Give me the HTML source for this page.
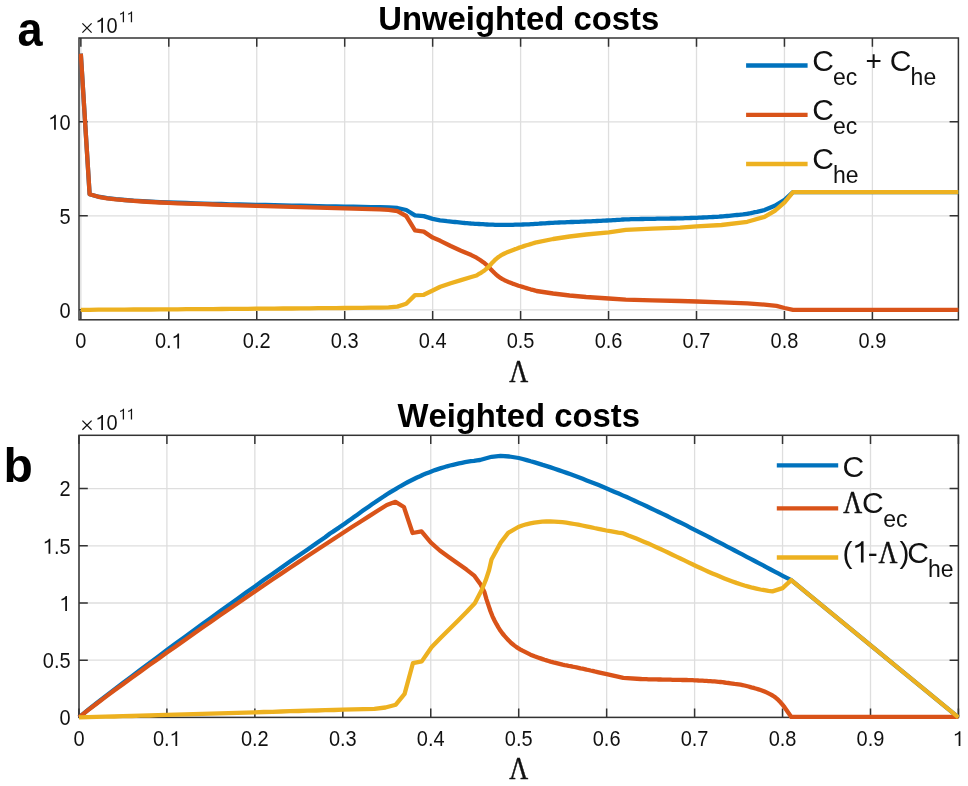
<!DOCTYPE html>
<html><head><meta charset="utf-8"><title>Costs</title><style>
html,body{margin:0;padding:0;background:#fff;}
body{width:968px;height:786px;overflow:hidden;}
svg{display:block;}
text{font-family:"Liberation Sans",sans-serif;fill:#111111;}
.tk{font-size:20px;}
.sup{font-size:14.5px;}
.ti{font-size:32.85px;font-weight:bold;fill:#000;}
.pl{font-size:48px;font-weight:bold;fill:#000;}
.lam{font-family:"Liberation Serif",serif;font-size:31px;stroke:#111111;stroke-width:0.45px;}
.lam2{font-family:"Liberation Serif",serif;font-size:31px;stroke:#111111;stroke-width:0.45px;}
.lg{font-size:30px;}
.lgp{font-size:28px;}
.sb{font-size:23px;}
.g1{fill:#111111;}
text{font-kerning:none;}
svg{will-change:transform;}
</style></head><body><div id="w">
<svg width="968" height="786" viewBox="0 0 968 786">
<rect width="968" height="786" fill="#fff"/>
<path d="M80.85 38.00V319.80M168.80 38.00V319.80M256.75 38.00V319.80M344.70 38.00V319.80M432.65 38.00V319.80M520.60 38.00V319.80M608.55 38.00V319.80M696.50 38.00V319.80M784.45 38.00V319.80M872.40 38.00V319.80M79.00 309.80H958.40M79.00 215.80H958.40M79.00 121.80H958.40" stroke="#dedede" stroke-width="1.3" fill="none"/>
<path d="M80.85 319.80V311.00M80.85 38.00V46.80M168.80 319.80V311.00M168.80 38.00V46.80M256.75 319.80V311.00M256.75 38.00V46.80M344.70 319.80V311.00M344.70 38.00V46.80M432.65 319.80V311.00M432.65 38.00V46.80M520.60 319.80V311.00M520.60 38.00V46.80M608.55 319.80V311.00M608.55 38.00V46.80M696.50 319.80V311.00M696.50 38.00V46.80M784.45 319.80V311.00M784.45 38.00V46.80M872.40 319.80V311.00M872.40 38.00V46.80M79.00 309.80H87.80M958.40 309.80H949.60M79.00 215.80H87.80M958.40 215.80H949.60M79.00 121.80H87.80M958.40 121.80H949.60" stroke="#333333" stroke-width="1.5" fill="none"/>
<rect x="79.00" y="38.00" width="879.40" height="281.80" fill="none" stroke="#333333" stroke-width="1.5"/>
<g transform="matrix(1 0 0 1.060 0 -20.910)"><text x="75.29" y="348.50" class="tk">0</text></g>
<g transform="matrix(1 0 0 1.060 0 -20.910)"><text x="154.90" y="348.50" class="tk">0. </text><path class="g1" d="M287 0L375 0L375 705L308 705C285 650 210 590 100 565L100 487C175 500 240 530 287 565Z" transform="translate(171.58 348.50) scale(0.0200 -0.0200)"/></g>
<g transform="matrix(1 0 0 1.060 0 -20.910)"><text x="242.85" y="348.50" class="tk">0.2</text></g>
<g transform="matrix(1 0 0 1.060 0 -20.910)"><text x="330.80" y="348.50" class="tk">0.3</text></g>
<g transform="matrix(1 0 0 1.060 0 -20.910)"><text x="418.75" y="348.50" class="tk">0.4</text></g>
<g transform="matrix(1 0 0 1.060 0 -20.910)"><text x="506.70" y="348.50" class="tk">0.5</text></g>
<g transform="matrix(1 0 0 1.060 0 -20.910)"><text x="594.65" y="348.50" class="tk">0.6</text></g>
<g transform="matrix(1 0 0 1.060 0 -20.910)"><text x="682.60" y="348.50" class="tk">0.7</text></g>
<g transform="matrix(1 0 0 1.060 0 -20.910)"><text x="770.55" y="348.50" class="tk">0.8</text></g>
<g transform="matrix(1 0 0 1.060 0 -20.910)"><text x="858.50" y="348.50" class="tk">0.9</text></g>
<g transform="matrix(1 0 0 1.060 0 -19.062)"><text x="59.48" y="317.70" class="tk">0</text></g>
<g transform="matrix(1 0 0 1.060 0 -13.422)"><text x="59.48" y="223.70" class="tk">5</text></g>
<g transform="matrix(1 0 0 1.060 0 -7.782)"><text x="48.35" y="129.70" class="tk"> 0</text><path class="g1" d="M287 0L375 0L375 705L308 705C285 650 210 590 100 565L100 487C175 500 240 530 287 565Z" transform="translate(48.35 129.70) scale(0.0200 -0.0200)"/></g>
<polyline points="80.8,53.7 89.6,194.2 98.4,196.7 107.2,198.2 116.0,199.2 124.8,200.0 133.6,200.7 142.4,201.2 151.2,201.7 160.0,202.1 168.8,202.4 177.6,202.7 186.4,203.0 195.2,203.3 204.0,203.6 212.8,203.8 221.6,204.0 230.4,204.3 239.2,204.5 248.0,204.7 256.8,204.9 265.5,205.0 274.3,205.2 283.1,205.4 291.9,205.6 300.7,205.7 309.5,205.9 318.3,206.1 327.1,206.3 335.9,206.4 344.7,206.6 353.5,206.7 362.3,206.9 371.1,207.1 379.9,207.2 388.7,207.5 397.5,208.0 406.3,210.0 415.0,215.4 423.8,216.1 432.7,218.9 440.0,220.4 445.0,220.9 447.0,221.2 449.0,221.4 451.0,221.6 453.0,221.8 455.0,222.0 457.0,222.2 459.0,222.4 461.0,222.6 463.0,222.8 465.0,223.0 467.0,223.1 469.0,223.3 471.0,223.5 473.0,223.6 475.0,223.8 477.0,223.9 479.0,224.0 481.0,224.1 483.0,224.2 485.0,224.4 487.0,224.5 489.0,224.6 491.0,224.6 493.0,224.7 495.0,224.8 497.0,224.8 499.0,224.9 501.0,224.9 503.0,224.9 505.0,224.9 507.0,224.9 509.0,224.9 511.0,224.8 513.0,224.8 515.0,224.7 517.0,224.7 519.0,224.6 521.0,224.6 523.0,224.5 525.0,224.4 527.0,224.4 529.0,224.3 531.0,224.2 533.0,224.1 535.0,223.9 537.0,223.8 539.0,223.7 541.0,223.5 543.0,223.4 545.0,223.3 547.0,223.1 549.0,223.0 551.0,222.9 553.0,222.8 555.0,222.7 557.0,222.6 559.0,222.5 561.0,222.4 563.0,222.3 565.0,222.3 567.0,222.2 569.0,222.1 571.0,222.0 573.0,222.0 575.0,221.9 577.0,221.8 579.0,221.8 581.0,221.7 583.0,221.6 585.0,221.5 587.0,221.4 589.0,221.4 591.0,221.3 593.0,221.2 595.0,221.1 597.0,221.0 599.0,220.9 601.0,220.8 603.0,220.7 605.0,220.7 607.0,220.5 609.0,220.4 611.0,220.3 613.0,220.2 615.0,220.1 617.0,219.9 619.0,219.8 621.0,219.7 623.0,219.5 625.0,219.4 627.0,219.4 629.0,219.3 631.0,219.2 633.0,219.2 635.0,219.1 637.0,219.1 639.0,219.1 641.0,219.0 643.0,219.0 645.0,218.9 647.0,218.9 649.0,218.9 651.0,218.8 653.0,218.8 655.0,218.8 657.0,218.7 659.0,218.7 661.0,218.7 663.0,218.6 665.0,218.6 667.0,218.6 669.0,218.6 671.0,218.5 673.0,218.5 675.0,218.5 677.0,218.4 679.0,218.4 681.0,218.3 683.0,218.3 685.0,218.2 687.0,218.1 689.0,218.1 691.0,218.0 693.0,217.9 695.0,217.8 697.0,217.8 699.0,217.7 701.0,217.6 703.0,217.5 705.0,217.4 707.0,217.3 709.0,217.2 711.0,217.1 713.0,217.0 715.0,216.9 717.0,216.8 719.0,216.7 721.0,216.5 723.0,216.4 725.0,216.2 727.0,216.0 729.0,215.8 731.0,215.6 733.0,215.4 735.0,215.2 737.0,215.0 739.0,214.8 741.0,214.6 743.0,214.4 745.0,214.1 747.0,213.8 749.0,213.5 751.0,213.1 753.0,212.7 755.0,212.2 757.0,211.8 759.0,211.3 764.5,210.1 774.8,205.8 784.6,199.8 793.0,192.2 958.4,192.2" fill="none" stroke="#0072BD" stroke-width="4.3" stroke-linejoin="round" stroke-linecap="butt"/>
<polyline points="80.8,53.7 89.6,194.2 98.4,196.8 107.2,198.3 116.0,199.4 124.8,200.2 133.6,200.9 142.4,201.5 151.2,202.0 160.0,202.5 168.8,202.9 177.6,203.3 186.4,203.6 195.2,203.9 204.0,204.2 212.8,204.5 221.6,204.8 230.4,205.1 239.2,205.4 248.0,205.6 256.8,205.9 265.5,206.2 274.3,206.4 283.1,206.7 291.9,206.9 300.7,207.2 309.5,207.4 318.3,207.6 327.1,207.9 335.9,208.1 344.7,208.4 353.5,208.6 362.3,208.9 371.1,209.1 379.9,209.4 388.6,209.9 397.4,211.2 406.2,216.0 415.0,230.3 423.8,231.6 432.7,237.6 440.3,240.8 450.7,246.0 461.0,250.7 471.3,255.1 476.5,257.7 478.5,259.0 480.5,260.3 482.5,261.7 484.5,263.1 486.5,264.8 488.5,266.7 490.5,268.9 492.5,271.0 494.5,273.0 496.5,274.8 498.5,276.5 500.5,277.9 502.5,279.2 504.5,280.2 506.5,281.1 508.5,282.0 510.5,282.8 512.5,283.6 514.5,284.3 516.5,285.0 518.5,285.7 520.5,286.3 522.5,286.9 524.5,287.5 526.5,288.1 528.5,288.7 530.5,289.3 532.5,289.8 534.5,290.4 536.5,291.0 553.1,293.5 569.6,295.5 586.1,297.0 608.8,298.5 625.8,299.6 652.2,300.3 680.0,301.0 696.6,301.5 721.5,302.3 747.3,303.4 764.5,304.6 776.5,305.9 784.6,308.0 793.0,309.8 958.4,309.8" fill="none" stroke="#D95319" stroke-width="4.3" stroke-linejoin="round" stroke-linecap="butt"/>
<polyline points="80.8,309.8 89.6,309.8 98.4,309.7 107.2,309.7 116.0,309.6 124.8,309.6 133.6,309.5 142.4,309.5 151.2,309.5 160.0,309.4 168.8,309.3 177.6,309.3 186.4,309.2 195.2,309.2 204.0,309.1 212.8,309.1 221.6,309.0 230.4,308.9 239.2,308.9 248.0,308.8 256.8,308.7 265.5,308.7 274.3,308.6 283.1,308.5 291.9,308.5 300.7,308.4 309.5,308.3 318.3,308.2 327.1,308.2 335.9,308.1 344.7,308.0 353.5,307.9 362.3,307.8 371.1,307.7 379.9,307.7 388.6,307.4 397.4,306.6 406.2,303.8 415.0,295.1 423.8,294.8 432.7,290.5 440.3,286.8 450.7,283.2 461.0,280.1 471.3,277.0 476.5,275.5 478.5,274.2 480.5,273.1 482.5,271.8 484.5,270.4 486.5,268.8 488.5,266.9 490.5,264.7 492.5,262.4 494.5,260.4 496.5,258.6 498.5,257.0 500.5,255.7 502.5,254.5 504.5,253.5 506.5,252.6 508.5,251.8 510.5,251.0 512.5,250.2 514.5,249.4 516.5,248.7 518.5,247.9 520.5,247.2 522.5,246.6 524.5,245.9 526.5,245.3 528.5,244.7 530.5,244.1 532.5,243.5 534.5,242.9 536.5,242.3 553.1,239.0 569.6,236.5 586.1,234.5 608.8,232.4 625.8,229.9 652.2,228.6 680.0,227.6 696.6,226.4 721.5,225.0 747.3,221.8 764.5,216.9 774.8,210.9 784.6,202.3 793.0,192.2 958.4,192.2" fill="none" stroke="#EDB120" stroke-width="4.3" stroke-linejoin="round" stroke-linecap="butt"/>
<path d="M78.95 435.30V717.40M166.90 435.30V717.40M254.85 435.30V717.40M342.80 435.30V717.40M430.75 435.30V717.40M518.70 435.30V717.40M606.65 435.30V717.40M694.60 435.30V717.40M782.55 435.30V717.40M870.50 435.30V717.40M958.45 435.30V717.40M79.00 717.40H958.40M79.00 660.20H958.40M79.00 603.00H958.40M79.00 545.80H958.40M79.00 488.60H958.40" stroke="#dedede" stroke-width="1.3" fill="none"/>
<path d="M78.95 717.40V708.60M78.95 435.30V444.10M166.90 717.40V708.60M166.90 435.30V444.10M254.85 717.40V708.60M254.85 435.30V444.10M342.80 717.40V708.60M342.80 435.30V444.10M430.75 717.40V708.60M430.75 435.30V444.10M518.70 717.40V708.60M518.70 435.30V444.10M606.65 717.40V708.60M606.65 435.30V444.10M694.60 717.40V708.60M694.60 435.30V444.10M782.55 717.40V708.60M782.55 435.30V444.10M870.50 717.40V708.60M870.50 435.30V444.10M958.45 717.40V708.60M958.45 435.30V444.10M79.00 717.40H87.80M958.40 717.40H949.60M79.00 660.20H87.80M958.40 660.20H949.60M79.00 603.00H87.80M958.40 603.00H949.60M79.00 545.80H87.80M958.40 545.80H949.60M79.00 488.60H87.80M958.40 488.60H949.60" stroke="#333333" stroke-width="1.5" fill="none"/>
<rect x="79.00" y="435.30" width="879.40" height="282.10" fill="none" stroke="#333333" stroke-width="1.5"/>
<g transform="matrix(1 0 0 1.060 0 -44.766)"><text x="73.39" y="746.10" class="tk">0</text></g>
<g transform="matrix(1 0 0 1.060 0 -44.766)"><text x="153.00" y="746.10" class="tk">0. </text><path class="g1" d="M287 0L375 0L375 705L308 705C285 650 210 590 100 565L100 487C175 500 240 530 287 565Z" transform="translate(169.68 746.10) scale(0.0200 -0.0200)"/></g>
<g transform="matrix(1 0 0 1.060 0 -44.766)"><text x="240.95" y="746.10" class="tk">0.2</text></g>
<g transform="matrix(1 0 0 1.060 0 -44.766)"><text x="328.90" y="746.10" class="tk">0.3</text></g>
<g transform="matrix(1 0 0 1.060 0 -44.766)"><text x="416.85" y="746.10" class="tk">0.4</text></g>
<g transform="matrix(1 0 0 1.060 0 -44.766)"><text x="504.80" y="746.10" class="tk">0.5</text></g>
<g transform="matrix(1 0 0 1.060 0 -44.766)"><text x="592.75" y="746.10" class="tk">0.6</text></g>
<g transform="matrix(1 0 0 1.060 0 -44.766)"><text x="680.70" y="746.10" class="tk">0.7</text></g>
<g transform="matrix(1 0 0 1.060 0 -44.766)"><text x="768.65" y="746.10" class="tk">0.8</text></g>
<g transform="matrix(1 0 0 1.060 0 -44.766)"><text x="856.60" y="746.10" class="tk">0.9</text></g>
<g transform="matrix(1 0 0 1.060 0 -44.766)"><path class="g1" d="M287 0L375 0L375 705L308 705C285 650 210 590 100 565L100 487C175 500 240 530 287 565Z" transform="translate(952.89 746.10) scale(0.0200 -0.0200)"/></g>
<g transform="matrix(1 0 0 1.060 0 -43.518)"><text x="59.48" y="725.30" class="tk">0</text></g>
<g transform="matrix(1 0 0 1.060 0 -40.086)"><text x="42.80" y="668.10" class="tk">0.5</text></g>
<g transform="matrix(1 0 0 1.060 0 -36.654)"><path class="g1" d="M287 0L375 0L375 705L308 705C285 650 210 590 100 565L100 487C175 500 240 530 287 565Z" transform="translate(59.48 610.90) scale(0.0200 -0.0200)"/></g>
<g transform="matrix(1 0 0 1.060 0 -33.222)"><text x="42.80" y="553.70" class="tk"> .5</text><path class="g1" d="M287 0L375 0L375 705L308 705C285 650 210 590 100 565L100 487C175 500 240 530 287 565Z" transform="translate(42.80 553.70) scale(0.0200 -0.0200)"/></g>
<g transform="matrix(1 0 0 1.060 0 -29.790)"><text x="59.48" y="496.50" class="tk">2</text></g>
<polyline points="79.0,717.4 87.7,710.2 96.5,703.2 105.3,696.4 114.1,689.7 122.9,683.0 131.7,676.4 140.5,669.8 149.3,663.2 158.1,656.6 166.9,650.1 175.7,643.6 184.5,637.2 193.3,630.7 202.1,624.3 210.9,617.9 219.7,611.6 228.5,605.2 237.3,598.9 246.1,592.6 254.9,586.4 263.6,580.1 272.4,573.9 281.2,567.7 290.0,561.6 298.8,555.5 307.6,549.4 316.4,543.3 325.2,537.3 330.0,533.5 333.0,531.6 336.0,529.6 339.0,527.6 342.0,525.5 345.0,523.4 348.0,521.3 351.0,519.2 354.0,517.0 357.0,514.9 360.0,512.8 363.0,510.6 366.0,508.5 369.0,506.4 372.0,504.3 375.0,502.3 378.0,500.2 381.0,498.2 384.0,496.3 387.0,494.3 390.0,492.4 393.0,490.6 396.0,488.8 399.0,487.0 402.0,485.3 405.0,483.6 408.0,482.0 411.0,480.5 414.0,479.0 417.0,477.5 420.0,476.2 423.0,474.8 426.0,473.6 429.0,472.4 432.0,471.2 435.0,470.1 438.0,469.1 441.0,468.1 444.0,467.2 447.0,466.3 450.0,465.5 453.0,464.8 456.0,464.1 459.0,463.4 462.0,462.8 465.0,462.2 468.0,461.7 471.0,461.2 474.0,460.8 477.0,460.3 480.0,460.0 491.6,456.8 500.5,455.9 509.4,456.5 518.7,458.0 522.7,459.0 526.7,460.1 530.7,461.3 534.7,462.4 538.7,463.6 542.7,464.9 546.7,466.1 550.7,467.4 554.7,468.7 558.7,470.1 562.7,471.5 566.7,472.9 570.7,474.3 574.7,475.8 578.7,477.3 582.7,478.8 586.7,480.4 590.7,481.9 594.7,483.5 598.7,485.1 602.7,486.8 606.7,488.5 610.7,490.2 614.7,491.9 618.7,493.6 622.7,495.4 626.7,497.1 630.7,498.9 634.7,500.7 638.7,502.6 642.7,504.4 646.7,506.3 650.7,508.2 654.7,510.1 658.7,512.0 662.7,513.9 666.7,515.8 670.7,517.8 674.7,519.8 678.7,521.7 682.7,523.7 686.7,525.7 690.7,527.8 694.7,529.8 698.7,531.8 702.7,533.9 706.7,535.9 710.7,538.0 714.7,540.1 718.7,542.1 722.7,544.2 726.7,546.3 730.7,548.4 734.7,550.5 738.7,552.6 742.7,554.7 746.7,556.8 750.7,558.9 754.7,561.0 758.7,563.1 762.7,565.2 766.7,567.4 770.7,569.5 774.7,571.6 778.7,573.7 782.7,575.8 791.2,580.1 958.4,717.4" fill="none" stroke="#0072BD" stroke-width="4.3" stroke-linejoin="round" stroke-linecap="butt"/>
<polyline points="79.0,717.4 87.7,710.4 96.5,703.7 105.3,697.1 114.1,690.6 122.9,684.2 131.7,677.8 140.5,671.5 149.3,665.1 158.1,658.9 166.9,652.6 175.7,646.4 184.5,640.2 193.3,634.0 202.1,627.8 210.9,621.7 219.7,615.6 228.5,609.5 237.3,603.5 246.1,597.5 254.9,591.5 263.6,585.5 272.4,579.5 281.2,573.6 290.0,567.7 298.8,561.9 307.6,556.0 316.4,550.2 325.2,544.5 334.0,538.7 342.8,533.0 351.6,527.3 360.4,521.7 369.2,516.1 378.0,510.5 386.8,505.0 395.5,501.8 403.9,507.0 412.6,533.0 421.5,531.3 430.9,542.6 439.8,550.5 448.7,556.9 457.6,563.3 466.5,569.6 474.5,575.9 480.3,583.9 484.4,592.0 486.5,599.3 488.5,605.4 490.5,611.3 492.5,616.3 494.5,620.5 496.5,624.2 498.5,627.6 500.5,630.8 502.5,633.5 504.5,635.9 506.5,638.1 508.5,640.3 510.5,642.3 512.5,644.0 514.5,645.6 516.5,647.1 518.5,648.4 520.5,649.6 522.5,650.7 524.5,651.7 526.5,652.7 528.5,653.7 530.5,654.7 532.5,655.5 534.5,656.3 536.5,657.0 538.5,657.7 540.5,658.4 542.5,659.1 544.5,659.8 546.5,660.4 548.5,661.0 550.5,661.6 552.5,662.1 554.5,662.7 556.5,663.2 558.5,663.7 560.5,664.2 562.5,664.7 564.5,665.1 566.5,665.4 568.5,665.8 570.5,666.1 572.5,666.6 574.5,667.0 576.5,667.4 578.5,667.8 580.5,668.3 582.5,668.7 584.5,669.1 586.5,669.6 588.5,670.0 590.5,670.5 592.5,670.9 594.5,671.4 596.5,671.8 598.5,672.3 606.7,674.2 623.3,677.9 640.5,679.0 642.5,679.1 644.5,679.1 646.5,679.2 648.5,679.3 650.5,679.3 652.5,679.4 654.5,679.4 656.5,679.4 658.5,679.5 660.5,679.5 662.5,679.6 664.5,679.6 666.5,679.6 668.5,679.7 670.5,679.7 672.5,679.8 674.5,679.8 676.5,679.8 678.5,679.9 680.5,679.9 682.5,680.0 684.5,680.0 686.5,680.0 688.5,680.1 690.5,680.1 692.5,680.2 694.5,680.3 696.5,680.3 698.5,680.5 700.5,680.6 702.5,680.7 704.5,680.8 706.5,680.9 708.5,681.1 710.5,681.2 712.5,681.3 714.5,681.4 716.5,681.6 718.5,681.8 720.5,682.0 722.5,682.2 724.5,682.5 726.5,682.8 728.5,683.0 730.5,683.3 732.5,683.6 734.5,683.9 736.5,684.1 738.5,684.4 740.5,684.7 742.5,685.1 744.5,685.5 746.5,686.0 748.5,686.5 750.5,687.1 752.5,687.7 754.5,688.2 756.5,688.8 758.5,689.4 760.5,690.0 762.5,690.7 764.5,691.5 766.5,692.4 768.5,693.4 770.5,694.4 772.5,695.5 774.5,696.8 776.5,698.4 778.5,700.2 780.5,702.3 782.5,704.7 784.5,707.2 791.3,716.9 958.4,716.9" fill="none" stroke="#D95319" stroke-width="4.3" stroke-linejoin="round" stroke-linecap="butt"/>
<polyline points="79.0,717.4 87.7,717.2 96.5,716.9 105.3,716.7 114.1,716.5 122.9,716.2 131.7,716.0 140.5,715.7 149.3,715.5 158.1,715.2 166.9,714.9 175.7,714.7 184.5,714.4 193.3,714.2 202.1,713.9 210.9,713.6 219.7,713.4 228.5,713.1 237.3,712.8 246.1,712.6 254.9,712.3 263.6,712.0 272.4,711.8 281.2,711.5 290.0,711.2 298.8,711.0 307.6,710.7 316.4,710.5 325.2,710.2 334.0,710.0 342.8,709.7 374.4,708.8 385.5,707.5 395.8,704.7 404.6,693.9 412.9,663.2 421.8,661.4 431.5,647.3 441.0,637.6 449.6,629.0 458.2,620.4 466.8,611.8 474.8,603.2 481.7,590.0 485.7,580.3 489.1,570.0 491.5,559.5 500.7,542.6 508.2,532.9 518.3,527.0 522.3,525.5 526.3,524.3 530.3,523.4 534.3,522.6 538.3,522.1 542.3,521.7 546.3,521.5 550.3,521.5 554.3,521.6 558.3,521.9 562.3,522.2 566.3,522.7 570.3,523.3 574.3,524.0 578.3,524.7 582.3,525.5 586.3,526.3 590.3,527.1 594.3,528.0 598.3,528.8 602.3,529.7 606.3,530.5 610.3,531.2 614.3,531.9 618.3,532.6 622.3,533.1 624.2,533.8 628.4,535.5 632.4,537.0 636.4,538.6 640.4,540.2 644.4,541.9 648.4,543.6 652.4,545.4 656.4,547.2 660.4,549.0 664.4,550.9 668.4,552.8 672.4,554.7 676.4,556.6 680.4,558.5 684.4,560.4 688.4,562.4 692.4,564.3 696.4,566.2 700.4,568.0 704.4,569.9 708.4,571.7 712.4,573.4 716.4,575.1 720.4,576.8 724.4,578.4 728.4,580.0 732.4,581.5 736.4,582.9 740.4,584.2 744.4,585.5 748.4,586.6 752.4,587.7 756.4,588.6 760.4,589.5 764.4,590.2 768.4,590.9 772.4,591.4 782.6,588.1 791.2,580.1 958.4,717.4" fill="none" stroke="#EDB120" stroke-width="4.3" stroke-linejoin="round" stroke-linecap="butt"/>
<text x="518.7" y="29.7" text-anchor="middle" class="ti">Unweighted costs</text>
<text x="518.7" y="426.8" text-anchor="middle" class="ti">Weighted costs</text>
<text x="17.5" y="46.2" class="pl" transform="translate(17.5 0) scale(0.94 1) translate(-17.5 0)">a</text>
<text x="3.6" y="482.3" class="pl">b</text>
<path d="M82.4 23.4L91.6 32.6M91.6 23.4L82.4 32.6" stroke="#111111" stroke-width="1.25" fill="none"/>
<g transform="matrix(1 0 0 1.060 0 -1.968)"><text x="95.50" y="32.80" class="tk"> 0</text><path class="g1" d="M287 0L375 0L375 705L308 705C285 650 210 590 100 565L100 487C175 500 240 530 287 565Z" transform="translate(95.50 32.80) scale(0.0200 -0.0200)"/></g>
<g transform="matrix(1 0 0 1.060 0 -1.338)"><path class="g1" d="M287 0L375 0L375 705L308 705C285 650 210 590 100 565L100 487C175 500 240 530 287 565Z" transform="translate(118.60 22.30) scale(0.0145 -0.0145)"/><path class="g1" d="M287 0L375 0L375 705L308 705C285 650 210 590 100 565L100 487C175 500 240 530 287 565Z" transform="translate(126.66 22.30) scale(0.0145 -0.0145)"/></g>
<path d="M82.4 420.6L91.6 429.8M91.6 420.6L82.4 429.8" stroke="#111111" stroke-width="1.25" fill="none"/>
<g transform="matrix(1 0 0 1.060 0 -25.800)"><text x="95.50" y="430.00" class="tk"> 0</text><path class="g1" d="M287 0L375 0L375 705L308 705C285 650 210 590 100 565L100 487C175 500 240 530 287 565Z" transform="translate(95.50 430.00) scale(0.0200 -0.0200)"/></g>
<g transform="matrix(1 0 0 1.060 0 -25.170)"><path class="g1" d="M287 0L375 0L375 705L308 705C285 650 210 590 100 565L100 487C175 500 240 530 287 565Z" transform="translate(118.60 419.50) scale(0.0145 -0.0145)"/><path class="g1" d="M287 0L375 0L375 705L308 705C285 650 210 590 100 565L100 487C175 500 240 530 287 565Z" transform="translate(126.66 419.50) scale(0.0145 -0.0145)"/></g>
<text x="518.8" y="382.1" text-anchor="middle" class="lam" transform="translate(518.8 0) scale(0.846 1) translate(-518.8 0)">Λ</text>
<text x="518.7" y="779.3" text-anchor="middle" class="lam" transform="translate(518.7 0) scale(0.846 1) translate(-518.7 0)">Λ</text>
<line x1="746.1" y1="65.50" x2="807.6" y2="65.50" stroke="#0072BD" stroke-width="4.3"/>
<text x="812.20" y="70.50" class="lg">C</text>
<text x="833.00" y="84.60" class="sb">ec</text>
<line x1="746.1" y1="114.80" x2="807.6" y2="114.80" stroke="#D95319" stroke-width="4.3"/>
<text x="812.20" y="119.80" class="lg">C</text>
<text x="833.00" y="133.90" class="sb">ec</text>
<line x1="746.1" y1="164.00" x2="807.6" y2="164.00" stroke="#EDB120" stroke-width="4.3"/>
<text x="812.20" y="169.00" class="lg">C</text>
<text x="833.00" y="183.10" class="sb">he</text>
<text x="865.60" y="69.80" class="lgp">+</text>
<text x="889.70" y="70.50" class="lg">C</text>
<text x="910.60" y="84.60" class="sb">he</text>
<line x1="776.8" y1="465.40" x2="838.2" y2="465.40" stroke="#0072BD" stroke-width="4.3"/>
<line x1="776.8" y1="508.30" x2="838.2" y2="508.30" stroke="#D95319" stroke-width="4.3"/>
<line x1="776.8" y1="557.50" x2="838.2" y2="557.50" stroke="#EDB120" stroke-width="4.3"/>
<text x="842.60" y="476.90" class="lg">C</text>
<text x="852.8" y="513.2" text-anchor="middle" class="lam2" transform="translate(852.8 0) scale(0.846 1) translate(-852.8 0)">Λ</text>
<text x="862.00" y="513.20" class="lg">C</text>
<text x="883.20" y="527.40" class="sb">ec</text>
<text x="842.40" y="562.50" class="lg">(</text>
<path class="g1" d="M287 0L375 0L375 705L308 705C285 650 210 590 100 565L100 487C175 500 240 530 287 565Z" transform="translate(852.30 562.50) scale(0.0300 -0.0300)"/>
<text x="867.70" y="562.50" class="lg">-</text>
<text x="887.9" y="562.6" text-anchor="middle" class="lam2" transform="translate(887.9 0) scale(0.846 1) translate(-887.9 0)">Λ</text>
<text x="899.40" y="562.50" class="lg">)</text>
<text x="907.20" y="562.50" class="lg">C</text>
<text x="927.90" y="576.70" class="sb">he</text>
</svg>
</div></body></html>
